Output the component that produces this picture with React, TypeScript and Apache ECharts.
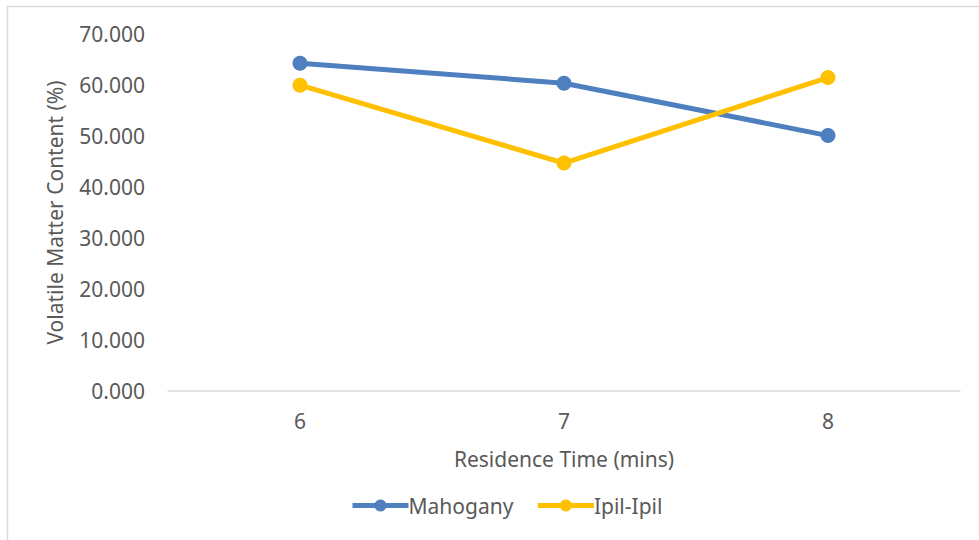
import React, { useEffect, useRef } from "react";
import * as echarts from "echarts";

const categories = ["6", "7", "8"];
const mahogany = [64.3, 60.4, 50.1];
const ipilIpil = [60.0, 44.7, 61.5];
const seriesNames = ["Mahogany", "Ipil-Ipil"];
const xAxisTitle = "Residence Time (mins)";
const yAxisTitle = "Volatile Matter Content (%)";

const FONT = "Noto Sans";
const TEXT = "#595959";
const FS = 21;

export default function App() {
  const ref = useRef<HTMLDivElement>(null);
  useEffect(() => {
    if (!ref.current) return;
    const chart = echarts.init(ref.current, undefined, { renderer: "svg" });
    chart.setOption({
      animation: false,
      backgroundColor: "#ffffff",
      textStyle: { fontFamily: FONT, color: TEXT },
      graphic: [
        {
          type: "rect",
          shape: { x: 7.5, y: 6.5, width: 1000, height: 600 },
          style: { fill: "none", stroke: "#d9d9d9", lineWidth: 1.5 },
          silent: true,
        },
      ],
      grid: { left: 168, right: 19, top: 34.3, bottom: 149.3, containLabel: false },
      legend: {
        left: 345,
        top: 490,
        itemWidth: 56,
        itemHeight: 15,
        itemGap: 22,
        lineStyle: { width: 5 },
        textStyle: { fontFamily: FONT, fontSize: FS, color: TEXT, padding: [0, 0, 0, -5] },
        data: seriesNames,
      },
      xAxis: {
        type: "category",
        data: categories,
        boundaryGap: true,
        axisTick: { show: false },
        axisLine: { lineStyle: { color: "#d9d9d9", width: 1.5 } },
        axisLabel: { fontFamily: FONT, fontSize: FS, color: TEXT, margin: 20 },
        name: xAxisTitle,
        nameLocation: "middle",
        nameGap: 58,
        nameTextStyle: { fontFamily: FONT, fontSize: FS, color: TEXT },
      },
      yAxis: {
        type: "value",
        min: 0,
        max: 70,
        interval: 10,
        splitLine: { show: false },
        axisLine: { show: false },
        axisTick: { show: false },
        axisLabel: {
          fontFamily: FONT,
          fontSize: FS,
          color: TEXT,
          margin: 23,
          formatter: (v: number) => v.toFixed(3),
        },
        name: yAxisTitle,
        nameLocation: "middle",
        nameGap: 103,
        nameTextStyle: { fontFamily: FONT, fontSize: FS, color: TEXT },
      },
      series: [
        {
          name: seriesNames[0],
          type: "line",
          data: mahogany,
          symbol: "circle",
          symbolSize: 15,
          lineStyle: { color: "#4E7FBF", width: 5 },
          itemStyle: { color: "#4E7FBF" },
        },
        {
          name: seriesNames[1],
          type: "line",
          data: ipilIpil,
          symbol: "circle",
          symbolSize: 15,
          lineStyle: { color: "#FFC000", width: 5 },
          itemStyle: { color: "#FFC000" },
        },
      ],
    });
    return () => chart.dispose();
  }, []);
  return (
    <div
      ref={ref}
      style={{ position: "fixed", left: 0, top: 0, width: 979, height: 540 }}
    />
  );
}
